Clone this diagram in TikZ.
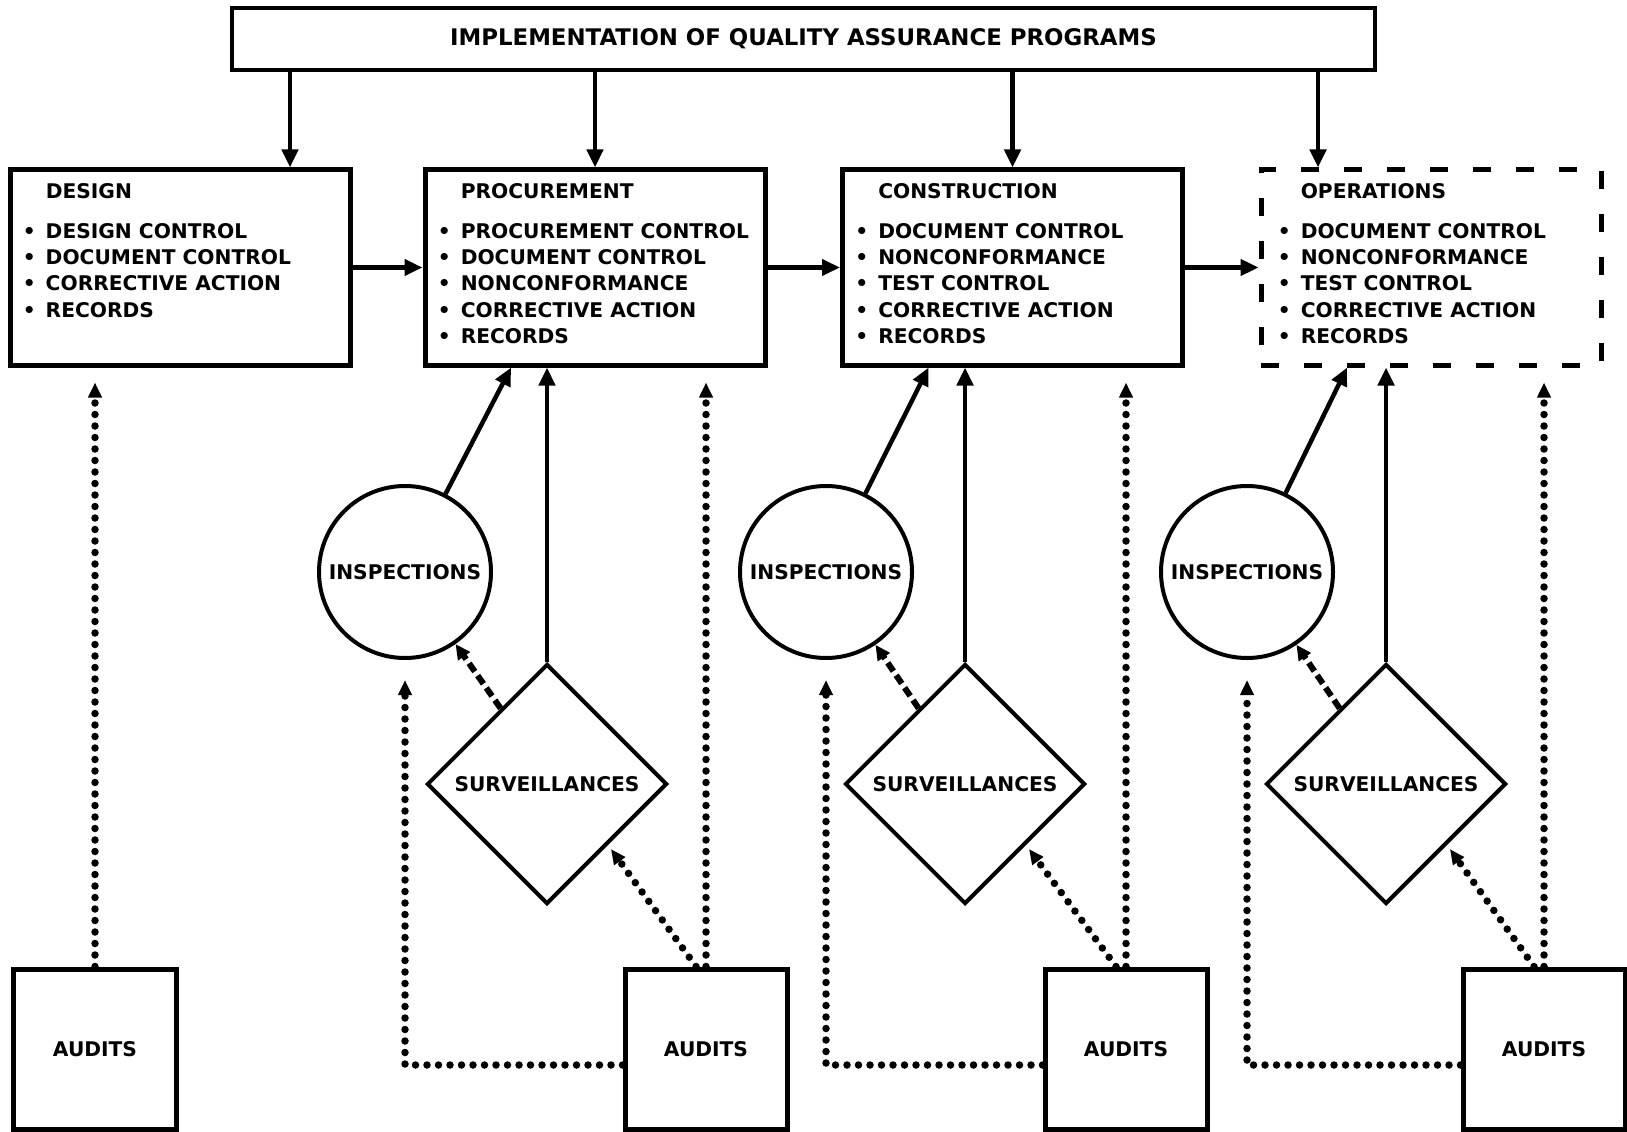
\documentclass[tikz,border=0pt]{standalone}
\usepackage{fontspec}
\setmainfont{DejaVu Sans}
\usepackage{tikz}
\usetikzlibrary{arrows.meta}
\usetikzlibrary{calc}
\usetikzlibrary{shapes,shapes.geometric}
\pgfdeclarelayer{edgelayer}
\pgfdeclarelayer{nodelayer}
\pgfsetlayers{edgelayer,nodelayer,main}
\newcommand{\qafont}{\fontsize{11.5}{15}\selectfont\bfseries}
\newcommand{\qatitlefont}{\fontsize{13}{15}\selectfont\bfseries}
\tikzstyle{none}=[inner sep=0mm]
\tikzstyle{program}=[draw=black, line width=0.08cm, fill=white, minimum width=22.86cm, minimum height=1.24cm, font=\qatitlefont]
\tikzstyle{phase}=[draw=black, line width=0.1cm, fill=white, minimum width=6.8cm, minimum height=3.9cm]
\tikzstyle{phase open}=[phase, dash pattern=on 0.36cm off 0.5cm]
\tikzstyle{phase list}=[inner sep=0mm, anchor=north west, align=left, font=\qafont]
\tikzstyle{insp}=[shape=circle, draw=black, line width=0.08cm, fill=white, minimum size=3.44cm, inner sep=0mm, font=\qafont]
\tikzstyle{surv}=[shape=diamond, aspect=1, draw=black, line width=0.08cm, fill=white, minimum size=4.8cm, inner sep=0mm, font=\qafont]
\tikzstyle{audit}=[draw=black, line width=0.1cm, fill=white, minimum width=3.24cm, minimum height=3.2cm, font=\qafont]
\tikzstyle{flow}=[line width=0.09cm, -{Triangle[length=0.36cm,width=0.32cm]}]
\tikzstyle{feed}=[line width=0.12cm, dash pattern=on 0.2cm off 0.1cm, -{Triangle[length=0.3cm,width=0.28cm]}]
\tikzstyle{audit line}=[line width=0.15cm, line cap=round, dash pattern=on 0cm off 0.23cm, -{Triangle[length=0.3cm,width=0.26cm]}]
\begin{document}
\begin{tikzpicture}
	\useasboundingbox (0, 0) rectangle (32.54, -22.64);
	\begin{pgfonlayer}{nodelayer}
		\node [style=program] (prog) at (16.07, -0.78) {IMPLEMENTATION OF QUALITY ASSURANCE PROGRAMS};
		\node [style=phase] (dsg) at (3.60, -5.35) {};
		\node [style=phase] (proc) at (11.90, -5.35) {};
		\node [style=phase] (cons) at (20.25, -5.35) {};
		\node [style=phase open] (ops) at (28.62, -5.35) {};
		\node [style=phase list] (dsgtxt) at ([xshift=0.3cm, yshift=-0.24cm]dsg.north west) {\begin{tabular}{@{}l@{\hspace{0.2cm}}l@{}}
			& DESIGN\\[0.27cm]
			\textbullet & DESIGN CONTROL\\
			\textbullet & DOCUMENT CONTROL\\
			\textbullet & CORRECTIVE ACTION\\
			\textbullet & RECORDS
		\end{tabular}};
		\node [style=phase list] (proctxt) at ([xshift=0.3cm, yshift=-0.24cm]proc.north west) {\begin{tabular}{@{}l@{\hspace{0.2cm}}l@{}}
			& PROCUREMENT\\[0.27cm]
			\textbullet & PROCUREMENT CONTROL\\
			\textbullet & DOCUMENT CONTROL\\
			\textbullet & NONCONFORMANCE\\
			\textbullet & CORRECTIVE ACTION\\
			\textbullet & RECORDS
		\end{tabular}};
		\node [style=phase list] (constxt) at ([xshift=0.3cm, yshift=-0.24cm]cons.north west) {\begin{tabular}{@{}l@{\hspace{0.2cm}}l@{}}
			& CONSTRUCTION\\[0.27cm]
			\textbullet & DOCUMENT CONTROL\\
			\textbullet & NONCONFORMANCE\\
			\textbullet & TEST CONTROL\\
			\textbullet & CORRECTIVE ACTION\\
			\textbullet & RECORDS
		\end{tabular}};
		\node [style=phase list] (opstxt) at ([xshift=0.38cm, yshift=-0.24cm]ops.north west) {\begin{tabular}{@{}l@{\hspace{0.2cm}}l@{}}
			& OPERATIONS\\[0.27cm]
			\textbullet & DOCUMENT CONTROL\\
			\textbullet & NONCONFORMANCE\\
			\textbullet & TEST CONTROL\\
			\textbullet & CORRECTIVE ACTION\\
			\textbullet & RECORDS
		\end{tabular}};
		\node [style=insp] (insp1) at (8.10, -11.44) {INSPECTIONS};
		\node [style=insp] (insp2) at (16.52, -11.44) {INSPECTIONS};
		\node [style=insp] (insp3) at (24.94, -11.44) {INSPECTIONS};
		\node [style=surv] (surv1) at (10.94, -15.68) {SURVEILLANCES};
		\node [style=surv] (surv2) at (19.30, -15.68) {SURVEILLANCES};
		\node [style=surv] (surv3) at (27.72, -15.68) {SURVEILLANCES};
		\node [style=audit] (aud0) at (1.90, -20.98) {AUDITS};
		\node [style=audit] (aud1) at (14.12, -20.98) {AUDITS};
		\node [style=audit] (aud2) at (22.52, -20.98) {AUDITS};
		\node [style=audit] (aud3) at (30.88, -20.98) {AUDITS};
	\end{pgfonlayer}
	\begin{pgfonlayer}{edgelayer}
		% program to the four phases
		\draw [style=flow] ([xshift=2.2cm]dsg.north |- prog.south) to ([xshift=2.2cm]dsg.north);
		\draw [style=flow] (proc.north |- prog.south) to (proc.north);
		\draw [style=flow] (cons.north |- prog.south) to (cons.north);
		\draw [style=flow] ([xshift=-2.26cm]ops.north |- prog.south) to ([xshift=-2.26cm]ops.north);
		\draw [style=flow] (dsg) to (proc);
		\draw [style=flow] (proc) to (cons);
		\draw [style=flow] (cons) to (ops);
		% inspections and surveillances
		\draw [style=flow] (insp1) to (proc.230);
		\draw [style=flow] (insp2) to (cons.230);
		\draw [style=flow] (insp3) to (ops.230);
		\draw [style=flow] (surv1.north) to (surv1.north |- proc.south);
		\draw [style=flow] (surv2.north) to (surv2.north |- cons.south);
		\draw [style=flow] (surv3.north) to (surv3.north |- ops.south);
		\draw [style=feed] ($(surv1.north)!0.38!(surv1.west)$) to (insp1);
		\draw [style=feed] ($(surv2.north)!0.38!(surv2.west)$) to (insp2);
		\draw [style=feed] ($(surv3.north)!0.38!(surv3.west)$) to (insp3);
		% audits
		\draw [style=audit line, shorten >=0.3cm] (aud0.north) to (aud0.north |- dsg.south);
		\draw [style=audit line, shorten >=0.3cm] (aud1.north) to (aud1.north |- proc.south);
		\draw [style=audit line, shorten >=0.3cm] (aud2.north) to (aud2.north |- cons.south);
		\draw [style=audit line, shorten >=0.3cm] (aud3.north) to (aud3.north |- ops.south);
		\draw [style=audit line, shorten >=0.1cm] ([xshift=-0.2cm]aud1.north) to ($(surv1.south)!0.5!(surv1.east)$);
		\draw [style=audit line, shorten >=0.1cm] ([xshift=-0.2cm]aud2.north) to ($(surv2.south)!0.5!(surv2.east)$);
		\draw [style=audit line, shorten >=0.1cm] ([xshift=-0.2cm]aud3.north) to ($(surv3.south)!0.5!(surv3.east)$);
		\draw [style=audit line, shorten >=0.4cm] ([yshift=-0.32cm]aud1.west) -| (insp1.south);
		\draw [style=audit line, shorten >=0.4cm] ([yshift=-0.32cm]aud2.west) -| (insp2.south);
		\draw [style=audit line, shorten >=0.4cm] ([yshift=-0.32cm]aud3.west) -| (insp3.south);
	\end{pgfonlayer}
\end{tikzpicture}
\end{document}
